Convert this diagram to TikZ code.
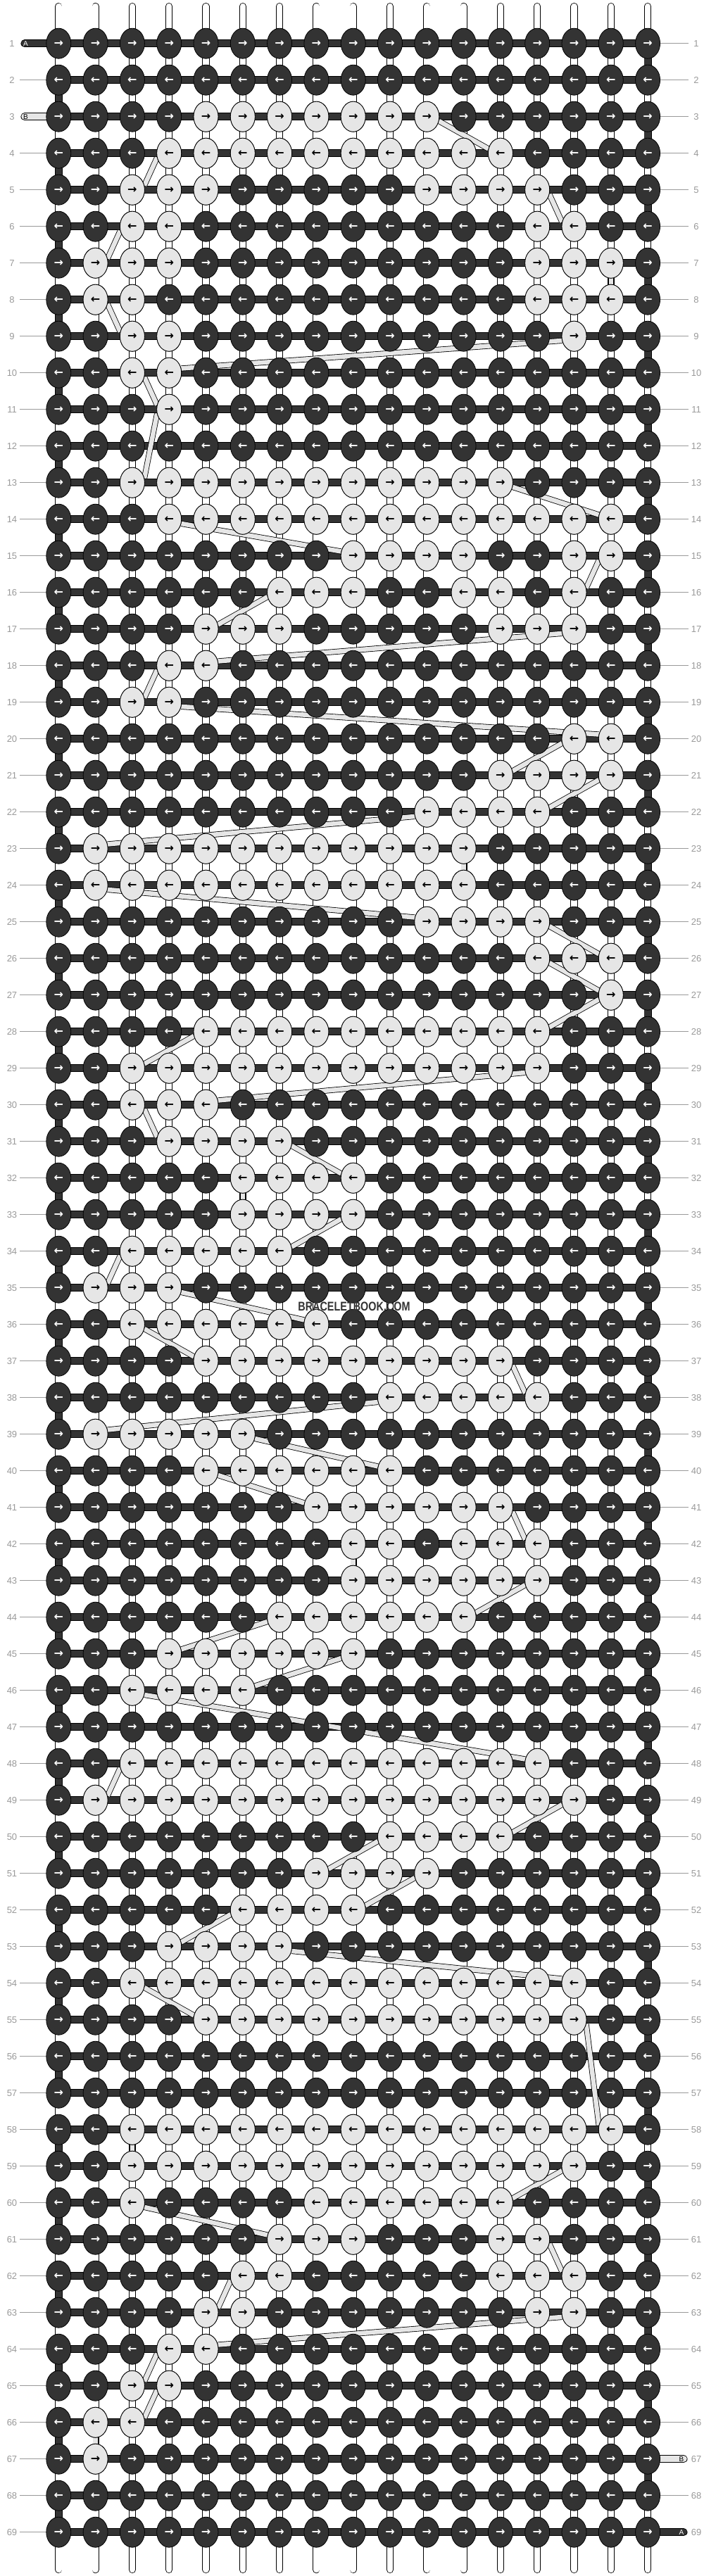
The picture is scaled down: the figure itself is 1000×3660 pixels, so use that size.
\documentclass[tikz,border=0pt]{standalone}
\usepackage{fontspec}
\setmainfont{Liberation Sans}
\newfontfamily\arrowfont{DejaVu Sans}
\newfontfamily\wmfont[FakeStretch=0.8]{Liberation Sans}
\usetikzlibrary{shapes.geometric}
\definecolor{knotdark}{HTML}{333333}
\definecolor{knotlight}{HTML}{E6E6E6}
\definecolor{labelgray}{HTML}{9A9A9A}
\pgfdeclarelayer{bg}
\pgfsetlayers{bg,main}
\tikzset{
  knotbase/.style={ellipse, draw=black, line width=0.8pt, minimum width=35pt, minimum height=43pt, inner sep=0pt, font=\arrowfont\bfseries\fontsize{16}{16}\selectfont},
  darkknot/.style={knotbase, fill=knotdark, text=white},
  lightknot/.style={knotbase, fill=knotlight, text=black},
  warpstring/.style={line width=0.8pt, draw=black, double=white, double distance=8.5pt, line cap=round},
  stringA/.style={line width=0.8pt, draw=black, double=knotdark, double distance=9.5pt, line cap=round, line join=miter},
  stringB/.style={line width=0.8pt, draw=black, double=knotlight, double distance=9.5pt, line cap=round},
  band/.style={line width=0.8pt, draw=black, double=knotlight, double distance=6.5pt},
  rowlabel/.style={text=labelgray, font=\fontsize{13}{13}\selectfont, minimum width=22pt, inner sep=0pt},
  labelline/.style={draw=labelgray, line width=0.8pt},
  stubletter/.style={font=\fontsize{10}{10}\selectfont, inner sep=0pt},
  watermark/.style={font=\wmfont\bfseries\fontsize{18}{18}\selectfont, text=knotdark},
}
\begin{document}
\begin{tikzpicture}[x=1pt,y=1pt]
\begin{pgfonlayer}{bg}
\fill[white] (0,0) rectangle (1000,-3660);
\end{pgfonlayer}
\useasboundingbox (0,0) rectangle (1000,-3660);
% dark knots
\foreach \r in {1,...,69}{
  \pgfmathtruncatemacro\odd{mod(\r,2)}
  \ifnum\odd=1 \def\arr{→}\else\def\arr{←}\fi
  \foreach \c in {1,...,17}{
    \node[darkknot] (k-\r-\c) at ({83.3+(\c-1)*52.3},{-61.7-(\r-1)*52}) {\arr};
  }
}
% light knots
\foreach \r/\cs in {
 3/{5,...,11}, 4/{4,...,13}, 5/{3,4,5,11,12,13,14}, 6/{3,4,14,15},
 7/{2,3,4,14,15,16}, 8/{2,3,14,15,16}, 9/{3,4,15}, 10/{3,4}, 11/{4},
 13/{3,...,13}, 14/{4,...,16}, 15/{9,10,11,12,15,16}, 16/{7,8,9,12,13,15},
 17/{5,6,7,13,14,15}, 18/{4,5}, 19/{3,4}, 20/{15,16}, 21/{13,14,15,16},
 22/{11,12,13,14}, 23/{2,...,12}, 24/{2,...,12}, 25/{11,12,13,14},
 26/{14,15,16}, 27/{16}, 28/{5,...,14}, 29/{3,...,14}, 30/{3,4,5},
 31/{4,5,6,7}, 32/{6,7,8,9}, 33/{6,7,8,9}, 34/{3,4,5,6,7}, 35/{2,3,4},
 36/{3,...,8}, 37/{5,...,13}, 38/{10,...,14}, 39/{2,...,6}, 40/{5,...,10},
 41/{8,...,13}, 42/{9,10,12,13,14}, 43/{9,...,14}, 44/{7,...,12},
 45/{4,...,9}, 46/{3,4,5,6}, 48/{3,...,14}, 49/{2,...,15}, 50/{10,11,12,13},
 51/{8,9,10,11}, 52/{6,7,8,9}, 53/{4,5,6,7}, 54/{3,...,15}, 55/{5,...,15},
 58/{3,...,16}, 59/{3,...,15}, 60/{3,8,9,10,11,12,13}, 61/{7,8,9,13,14},
 62/{6,7,13,14,15}, 63/{5,6,14,15}, 64/{4,5}, 65/{3,4}, 66/{2,3}, 67/{2}}{
  \pgfmathtruncatemacro\odd{mod(\r,2)}
  \ifnum\odd=1 \def\arr{→}\else\def\arr{←}\fi
  \foreach \c in \cs {
    \node[lightknot] (k-\r-\c) at ({83.3+(\c-1)*52.3},{-61.7-(\r-1)*52}) {\arr};
  }
}
% coordinates for string ends
\foreach \c in {1,...,17}{
  \coordinate (top-\c) at ({83.3+(\c-1)*52.3},-9);
  \coordinate (bot-\c) at ({83.3+(\c-1)*52.3},-3651);
}
\coordinate (sA1) at (35,-61.7);
\coordinate (sB3) at (35,-165.7);
\coordinate (sB67) at (971,-3493.7);
\coordinate (sA69) at (971,-3597.7);
\begin{pgfonlayer}{bg}
\foreach \c in {1,...,17}{\draw[warpstring] (top-\c) -- (bot-\c);}
\draw[stringA] (sA1)
  \foreach \r/\s in {1/2,3/4,5/6,7/8,9/10,11/12,13/14,15/16,17/18,19/20,21/22,23/24,25/26,27/28,29/30,31/32,33/34,35/36,37/38,39/40,41/42,43/44,45/46,47/48,49/50,51/52,53/54,55/56,57/58,59/60,61/62,63/64,65/66,67/68}{
    -- (k-\r-1.center) -- (k-\r-17.center) -- (k-\s-17.center) -- (k-\s-1.center)}
  -- (k-69-1.center) -- (k-69-17.center) -- (sA69);
\draw[stringB] (sB3) -- (k-3-1.center);
\draw[stringB] (k-67-17.center) -- (sB67);
\foreach \ra/\ca/\rb/\cb in {3/11/4/13, 4/4/5/3, 5/14/6/15, 6/3/7/2, 7/16/8/16, 8/2/9/3, 9/15/10/4, 10/3/11/4, 11/4/13/3, 13/13/14/16, 14/4/15/9, 15/16/16/15, 16/7/17/5, 17/15/18/5, 18/4/19/3, 19/4/20/16, 20/15/21/13, 21/16/22/14, 22/11/23/2, 23/12/24/12, 24/2/25/11, 25/14/26/16, 26/14/27/16, 27/16/28/14, 28/5/29/3, 29/14/30/5, 30/3/31/4, 31/7/32/9, 32/6/33/6, 33/9/34/7, 34/3/35/2, 35/4/36/8, 36/3/37/5, 37/13/38/14, 38/10/39/2, 39/6/40/10, 40/5/41/8, 41/13/42/14, 42/9/43/9, 43/14/44/12, 44/7/45/4, 45/9/46/6, 46/3/48/14, 48/3/49/2, 49/15/50/13, 50/10/51/8, 51/11/52/9, 52/6/53/4, 53/7/54/15, 54/3/55/5, 55/15/58/16, 58/3/59/3, 59/15/60/13, 60/3/61/7, 61/14/62/15, 62/6/63/5, 63/15/64/5, 64/4/65/3, 65/4/66/3, 66/2/67/2}{
  \ifnum\cb>\ca \def\aa{-20}\def\ab{160}\else\ifnum\cb<\ca \def\aa{200}\def\ab{20}\else\def\aa{center}\def\ab{center}\fi\fi
  \draw[band] (k-\ra-\ca.\aa) -- (k-\rb-\cb.\ab);
}
\end{pgfonlayer}
% row labels
\foreach \r in {1,...,69}{
  \node[rowlabel] (lL-\r) at (17,{-61.7-(\r-1)*52}) {\r};
  \node[rowlabel] (lR-\r) at (989,{-61.7-(\r-1)*52}) {\r};
  \ifnum\r=1 \else\ifnum\r=3 \else \draw[labelline] (lL-\r) -- (k-\r-1);\fi\fi
  \ifnum\r=67 \else\ifnum\r=69 \else \draw[labelline] (k-\r-17) -- (lR-\r);\fi\fi
}
\node[stubletter, text=white] (tA1) at (36.5,-61.7) {A};
\node[stubletter, text=black] (tB3) at (36.5,-165.7) {B};
\node[stubletter, text=black] (tB67) at (968,-3493.7) {B};
\node[stubletter, text=white] (tA69) at (968,-3597.7) {A};
\node[watermark] (wm) at (503,-1856) {BRACELETBOOK.COM};
\end{tikzpicture}
\end{document}
